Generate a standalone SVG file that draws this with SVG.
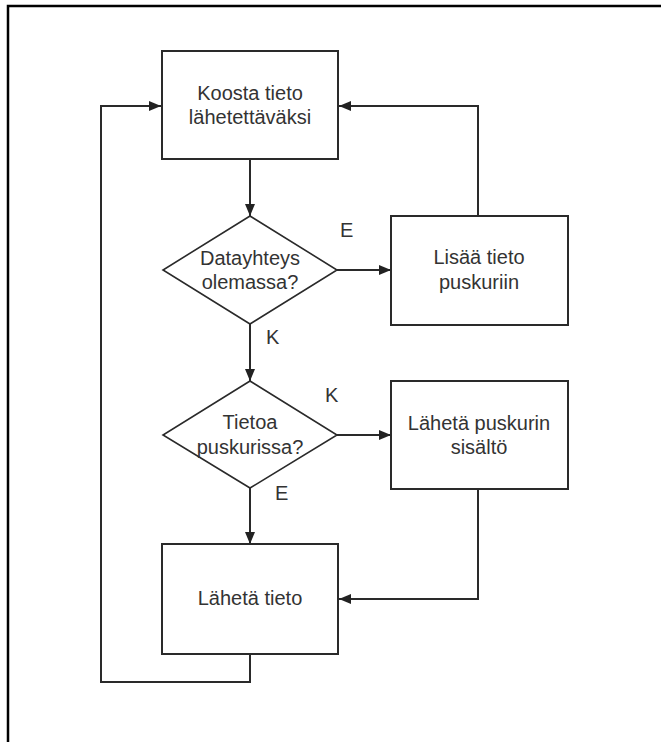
<svg xmlns="http://www.w3.org/2000/svg" width="661" height="742" viewBox="0 0 661 742">
<defs>
<marker id="ah" viewBox="0 0 12 10" refX="12" refY="5" markerWidth="12" markerHeight="10" markerUnits="userSpaceOnUse" orient="auto">
<path d="M0,0 L12,5 L0,10 Z" fill="#222"/>
</marker>
</defs>
<style>
.frame{fill:none;stroke:#000;stroke-width:2.5}
.box{fill:#fff;stroke:#2a2a2a;stroke-width:2}
.dia{fill:#fff;stroke:#2a2a2a;stroke-width:1.6}
.t{font-family:"Liberation Sans",Arial,sans-serif;font-size:20px;fill:#333;text-anchor:middle}
.lbl{font-family:"Liberation Sans",Arial,sans-serif;font-size:20px;fill:#333}
.c{fill:none;stroke:#2a2a2a;stroke-width:2}
</style>
<rect width="661" height="742" fill="#fff"/>
<path class="frame" d="M8,742 V6 H661"/>
<g id="connectors">
<path class="c" d="M250,159 V216" marker-end="url(#ah)"/>
<path class="c" d="M337,270 H391" marker-end="url(#ah)"/>
<path class="c" d="M478,216 V106 H339" marker-end="url(#ah)"/>
<path class="c" d="M250,324 V381" marker-end="url(#ah)"/>
<path class="c" d="M337,435 H391" marker-end="url(#ah)"/>
<path class="c" d="M478,489 V599 H339" marker-end="url(#ah)"/>
<path class="c" d="M250,488 V544" marker-end="url(#ah)"/>
<path class="c" d="M250,654 V682 H101 V106 H161" marker-end="url(#ah)"/>
<text class="lbl" x="340" y="237">E</text>
<text class="lbl" x="266" y="344">K</text>
<text class="lbl" x="325" y="402">K</text>
<text class="lbl" x="275" y="500">E</text>
</g>
<g id="koosta">
<rect class="box" x="162" y="51" width="176" height="108"/>
<text class="t" x="250" y="100">Koosta tieto</text>
<text class="t" x="250" y="124">lähetettäväksi</text>
</g>
<g id="datayhteys">
<polygon class="dia" points="250,216 337,270 250,324 163,270"/>
<text class="t" x="250" y="265">Datayhteys</text>
<text class="t" x="250" y="289">olemassa?</text>
</g>
<g id="lisaa">
<rect class="box" x="391" y="216" width="177" height="109"/>
<text class="t" x="479" y="264">Lisää tieto</text>
<text class="t" x="479" y="289">puskuriin</text>
</g>
<g id="tietoa">
<polygon class="dia" points="250,381 337,435 250,488 163,435"/>
<text class="t" x="250" y="429">Tietoa</text>
<text class="t" x="250" y="454">puskurissa?</text>
</g>
<g id="laheta-puskuri">
<rect class="box" x="391" y="381" width="177" height="108"/>
<text class="t" x="479" y="430">Lähetä puskurin</text>
<text class="t" x="479" y="454">sisältö</text>
</g>
<g id="laheta-tieto">
<rect class="box" x="162" y="544" width="176" height="110"/>
<text class="t" x="250" y="605">Lähetä tieto</text>
</g>
</svg>
